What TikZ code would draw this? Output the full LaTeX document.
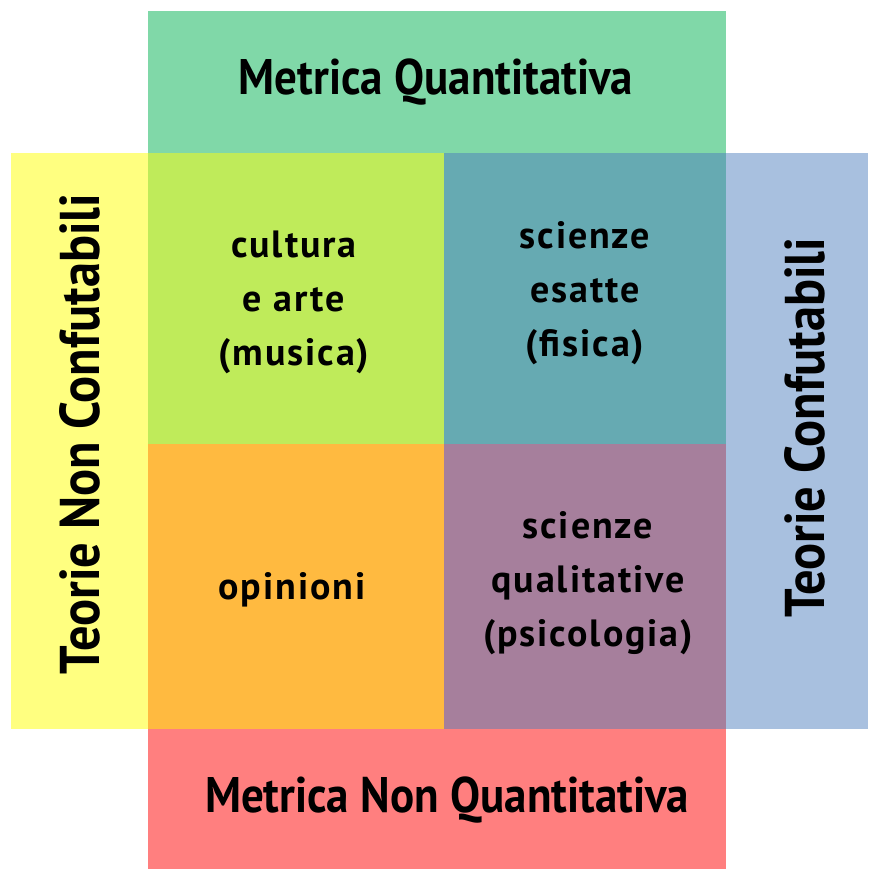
\documentclass[tikz,border=0pt]{standalone}
\usepackage{fontspec}
\setmainfont{PT Sans}
\newfontfamily\bigfont[FakeStretch=0.9]{PT Sans}
\newfontfamily\quadfont[LetterSpace=5]{PT Sans}
\definecolor{cTop}{HTML}{80D8A8}
\definecolor{cLeft}{HTML}{FFFF80}
\definecolor{cRight}{HTML}{A8C0DF}
\definecolor{cBot}{HTML}{FF7F7F}
\definecolor{cTL}{HTML}{BFEB5A}
\definecolor{cTR}{HTML}{66AAB2}
\definecolor{cBL}{HTML}{FFBA40}
\definecolor{cBR}{HTML}{A67F9C}
\tikzset{
  cell/.style={fill=#1, draw=none},
  big/.style={font=\bigfont\fontsize{50}{56}\selectfont\bfseries, text=black},
  side/.style={font=\bigfont\fontsize{56}{60}\selectfont\bfseries, text=black, rotate=90},
  quad/.style={font=\quadfont\fontsize{38}{54}\selectfont\bfseries, align=center, text=black},
}
\begin{document}
\begin{tikzpicture}[x=1pt,y=-1pt]
\useasboundingbox (0,0) rectangle (868,869);
\fill[cell=cTop] (148,11) rectangle (726,153);
\fill[cell=cLeft] (11,153) rectangle (148,729);
\fill[cell=cRight] (726,153) rectangle (868,729);
\fill[cell=cBot] (148,729) rectangle (726,869);
\fill[cell=cTL] (148,153) rectangle (444,444);
\fill[cell=cTR] (444,153) rectangle (726,444);
\fill[cell=cBL] (148,444) rectangle (444,729);
\fill[cell=cBR] (444,444) rectangle (726,729);
\node[big] (top) at (436,82) {Metrica Quantitativa};
\node[big] (bot) at (447,800) {Metrica Non Quantitativa};
\node[side] (left) at (80,434) {Teorie Non Confutabili};
\node[side] (right) at (805,428) {Teorie Confutabili};
\node[quad] (tl) at (294,302) {cultura\\e arte\\(musica)};
\node[quad] (tr) at (585,293) {scienze\\esatte\\(fisica)};
\node[quad] (bl) at (292,590) {opinioni};
\node[quad] (br) at (588,583) {scienze\\qualitative\\(psicologia)};
\end{tikzpicture}
\end{document}
